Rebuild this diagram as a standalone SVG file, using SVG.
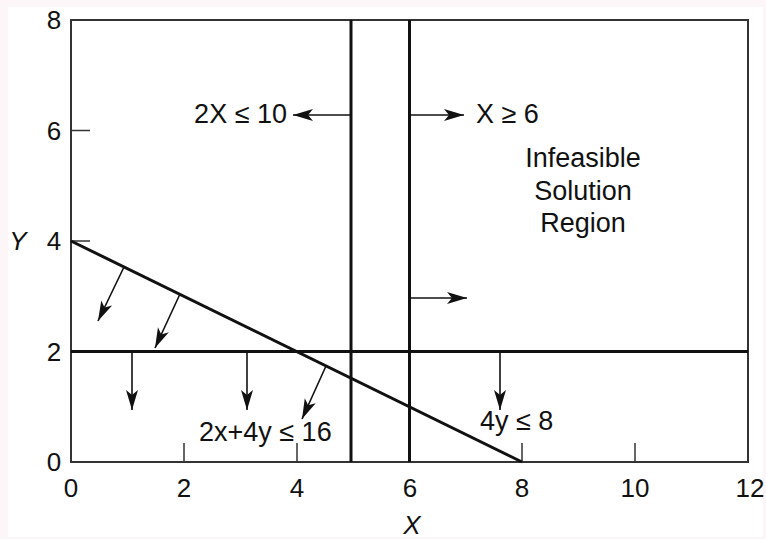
<svg xmlns="http://www.w3.org/2000/svg" width="766" height="539" viewBox="0 0 766 539">
  <defs>
    <marker id="ah" markerUnits="userSpaceOnUse" markerWidth="20" markerHeight="12" refX="20" refY="6" orient="auto" overflow="visible">
      <path d="M0,0 L20,6 L0,12 L5,6 Z" fill="#111"/>
    </marker>
    <style>
      .frame { fill: none; stroke: #333; stroke-width: 2; }
      .cons { fill: none; stroke: #111; stroke-width: 3; }
      .tick { stroke: #333; stroke-width: 1.5; }
      .arr { stroke: #111; stroke-width: 1.6; fill: none; marker-end: url(#ah); }
      text { font-family: "Liberation Sans", Arial, sans-serif; font-size: 26px; fill: #111; }
      .lbl { font-size: 27px; }
      .mid { text-anchor: middle; }
      .ital { font-style: italic; }
    </style>
  </defs>
  <rect x="0" y="0" width="766" height="539" fill="#fdf6f9"/>
  <rect x="8" y="7" width="755" height="530" fill="#ffffff"/>

  <g id="axes">
    <rect class="frame" x="71" y="20" width="677" height="442"/>
    <line class="tick" x1="71" y1="130.5" x2="90" y2="130.5"/>
    <line class="tick" x1="71" y1="241" x2="90" y2="241"/>
    <line class="tick" x1="184" y1="462" x2="184" y2="443"/>
    <line class="tick" x1="297" y1="462" x2="297" y2="443"/>
    <line class="tick" x1="522" y1="462" x2="522" y2="443"/>
    <line class="tick" x1="635" y1="462" x2="635" y2="443"/>
    <text class="mid" x="54" y="29">8</text>
    <text class="mid" x="54" y="140">6</text>
    <text class="mid" x="54" y="250">4</text>
    <text class="mid" x="54" y="361">2</text>
    <text class="mid" x="54" y="471">0</text>
    <text class="mid" x="71" y="497">0</text>
    <text class="mid" x="184" y="497">2</text>
    <text class="mid" x="297" y="497">4</text>
    <text class="mid" x="410" y="497">6</text>
    <text class="mid" x="522" y="497">8</text>
    <text class="mid" x="635" y="497">10</text>
    <text class="mid" x="750" y="497">12</text>
    <text class="mid ital" x="18" y="250">Y</text>
    <text class="mid ital" x="412" y="534">X</text>
  </g>

  <g id="constraint-2x-le-10">
    <line class="cons" x1="351" y1="20" x2="351" y2="462"/>
    <text class="lbl" x="287" y="123" text-anchor="end">2X ≤ 10</text>
  </g>
  <g id="constraint-x-ge-6">
    <line class="cons" x1="409.5" y1="20" x2="409.5" y2="462"/>
    <text class="lbl" x="476" y="123">X ≥ 6</text>
  </g>
  <g id="constraint-4y-le-8">
    <line class="cons" x1="71" y1="351.5" x2="748" y2="351.5"/>
    <text class="lbl" x="480" y="430">4y ≤ 8</text>
  </g>
  <g id="constraint-2x4y-le-16">
    <line class="cons" x1="71" y1="241" x2="522" y2="462"/>
    <text class="lbl" x="199" y="441">2x+4y ≤ 16</text>
  </g>
  <g id="infeasible-region">
    <text class="lbl mid" x="583" y="167">Infeasible</text>
    <text class="lbl mid" x="583" y="200">Solution</text>
    <text class="lbl mid" x="583" y="232">Region</text>
  </g>

  <g id="connectors">
    <line class="arr" x1="351" y1="115" x2="293" y2="115"/>
    <line class="arr" x1="409.5" y1="115" x2="464" y2="115"/>
    <line class="arr" x1="409.5" y1="298" x2="467" y2="298"/>
    <line class="arr" x1="124" y1="267" x2="98" y2="321"/>
    <line class="arr" x1="180" y1="294" x2="155" y2="348"/>
    <line class="arr" x1="326" y1="366" x2="302" y2="419"/>
    <line class="arr" x1="132" y1="351.5" x2="132" y2="410"/>
    <line class="arr" x1="247" y1="351.5" x2="247" y2="410"/>
    <line class="arr" x1="500" y1="351.5" x2="500" y2="410"/>
  </g>
</svg>
